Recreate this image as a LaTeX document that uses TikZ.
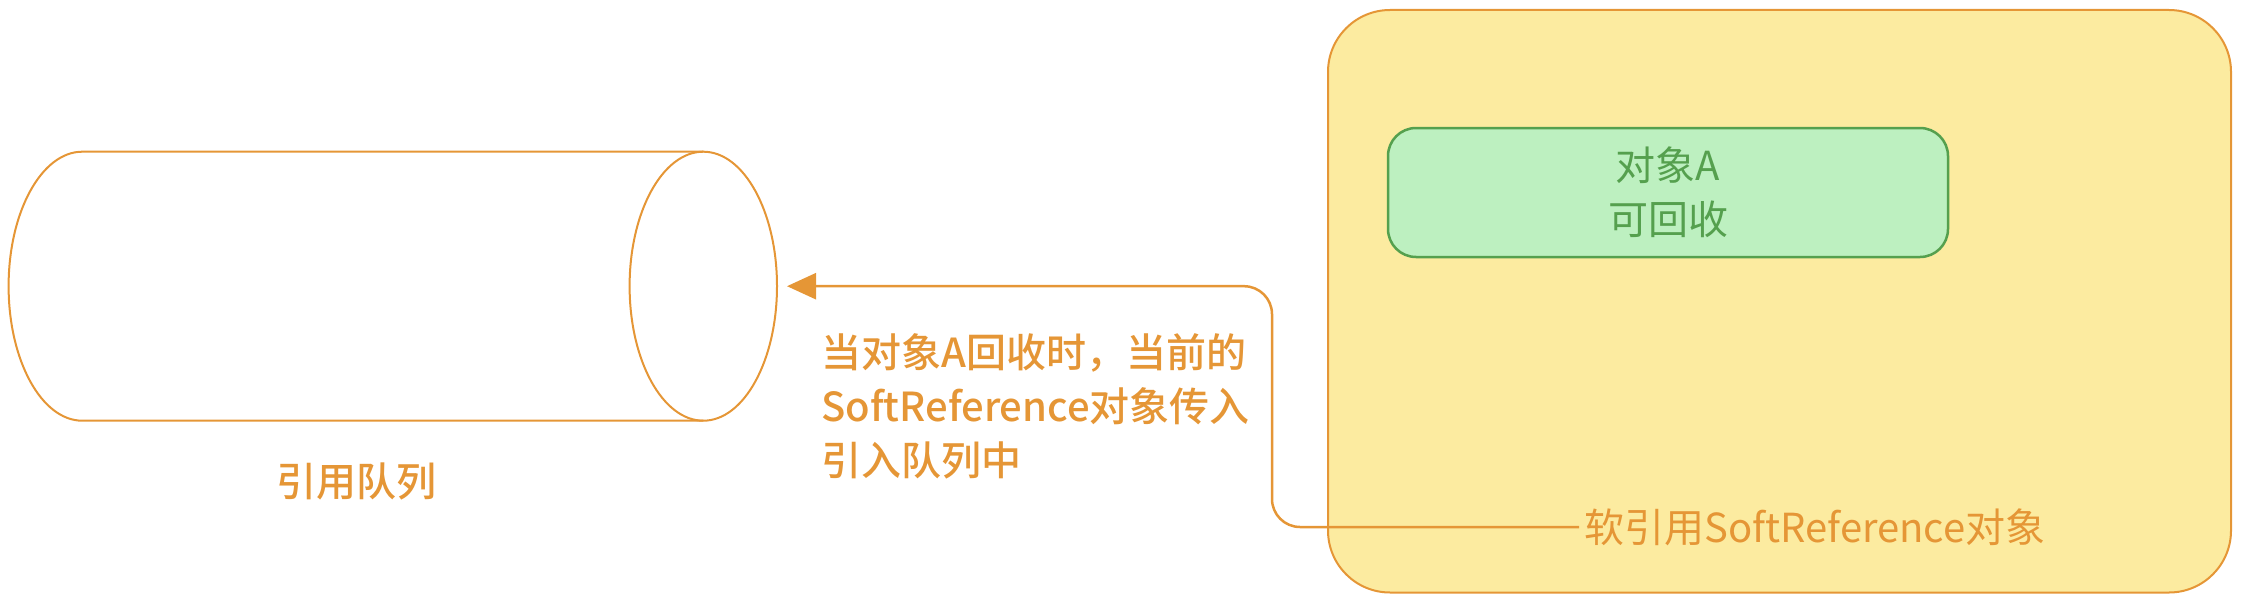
\documentclass[tikz,border=0pt]{standalone}
\usepackage{fontspec}
\setmainfont{Noto Sans CJK SC}
\newfontfamily\medfont{Noto Sans CJK SC Medium}
\usetikzlibrary{shapes.geometric,arrows.meta}
\definecolor{qorange}{HTML}{E59636}
\definecolor{qyellow}{HTML}{FCEBA0}
\definecolor{qgreenfill}{HTML}{BDF0C0}
\definecolor{qgreen}{HTML}{55A04E}
\tikzset{
  bigfont/.style={font=\fontsize{40}{54}\selectfont},
  medbig/.style={font=\fontsize{40}{54}\selectfont\medfont},
  outerbox/.style={draw=qorange, fill=qyellow, line width=2pt, rounded corners=62pt, inner sep=0pt},
  greenbox/.style={draw=qgreen, fill=qgreenfill, line width=2.5pt, rounded corners=28pt, inner sep=0pt, text=qgreen, align=center, bigfont},
  cylline/.style={draw=qorange, line width=2pt},
  orangelabel/.style={text=qorange, inner sep=0pt, bigfont},
  conn/.style={draw=qorange, line width=2.5pt, rounded corners=28pt, -{Triangle[length=29pt,width=26pt]}, shorten >=9pt},
}
\begin{document}
\begin{tikzpicture}[x=1pt, y=-1pt]
\useasboundingbox (0,0) rectangle (2244,602);
% cylinder (reference queue)
\draw[cylline] (703.3,151.7) -- (82.3,151.7)
  arc[start angle=-90, end angle=-270, x radius=73.7, y radius=134.5]
  -- (703.3,420.7);
\node[ellipse, cylline, minimum width=147.4pt, minimum height=269pt, inner sep=0pt] (face) at (703.3,286.2) {};
\node[orangelabel, medbig] (qlabel) at (356,481) {引用队列};
% soft reference object container
\node[outerbox, minimum width=903pt, minimum height=582.5pt] (outer) at (1779.5,301.25) {};
\node[greenbox, minimum width=560pt, minimum height=129pt] (objA) at (1668,192.5) {对象A\\可回收};
\node[orangelabel, anchor=west, inner xsep=5pt] (soft) at (1579,527) {软引用SoftReference对象};
% connector
\coordinate (bend) at (1272,0);
\draw[conn] (soft.west) -| (bend |- face.east) -- (face.east);
\node[orangelabel, anchor=base west, text width=460pt, align=left, medbig] (elabel) at (821,367) {当对象A回收时，当前的\\SoftReference对象传入\\引入队列中};
\end{tikzpicture}
\end{document}
